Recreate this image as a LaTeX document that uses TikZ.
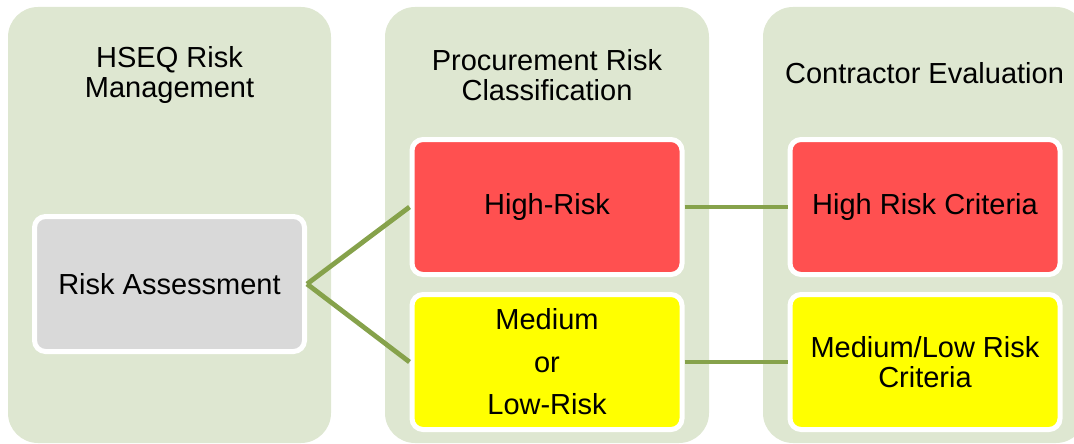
\documentclass[tikz,border=0pt]{standalone}
\usepackage{fontspec}
\setmainfont{Liberation Sans}
\definecolor{colfill}{HTML}{DEE7D1}
\definecolor{redfill}{HTML}{FF5050}
\definecolor{yelfill}{HTML}{FFFF00}
\definecolor{greyfill}{HTML}{D9D9D9}
\definecolor{linkcol}{HTML}{86A24B}
\tikzset{
  column/.style={fill=colfill, rounded corners=30pt},
  coltitle/.style={align=center, font=\fontsize{29}{30.5}\selectfont, inner sep=0pt},
  box/.style={draw=white, line width=5pt, rounded corners=11pt, minimum width=270pt, minimum height=135pt, align=center, inner sep=2pt, font=\fontsize{29}{30.5}\selectfont},
  link/.style={draw=linkcol, line width=4.8pt}
}
\begin{document}
\begin{tikzpicture}[x=1pt,y=-1pt]
\useasboundingbox (0,0) rectangle (1074,444);
% columns
\path[column] (8,7) rectangle (331,443);
\path[column] (385,7) rectangle (709,443);
\path[column] (763,7) rectangle (1086,443);
% titles
\node[coltitle] (t1) at (169.5,75) {HSEQ Risk\\Management};
\node[coltitle] (t2) at (547,75) {Procurement Risk\\Classification};
\node[coltitle] (t3) at (924.5,73) {Contractor Evaluation};
% boxes
\node[box, fill=greyfill] (ra) at (169.5,284) {Risk Assessment};
\node[box, fill=redfill] (hr) at (547,207) {High-Risk};
\node[box, fill=yelfill, font=\fontsize{29}{42.5}\selectfont] (mr) at (547,362) {Medium\\or\\Low-Risk};
\node[box, fill=redfill] (hc) at (925,207) {High Risk Criteria};
\node[box, fill=yelfill] (mc) at (925,362) {Medium/Low Risk\\Criteria};
% connectors
\draw[link] (ra.east) -- (hr.west);
\draw[link] (ra.east) -- (mr.west);
\draw[link] (hr.east) -- (hc.west);
\draw[link] (mr.east) -- (mc.west);
\end{tikzpicture}
\end{document}
